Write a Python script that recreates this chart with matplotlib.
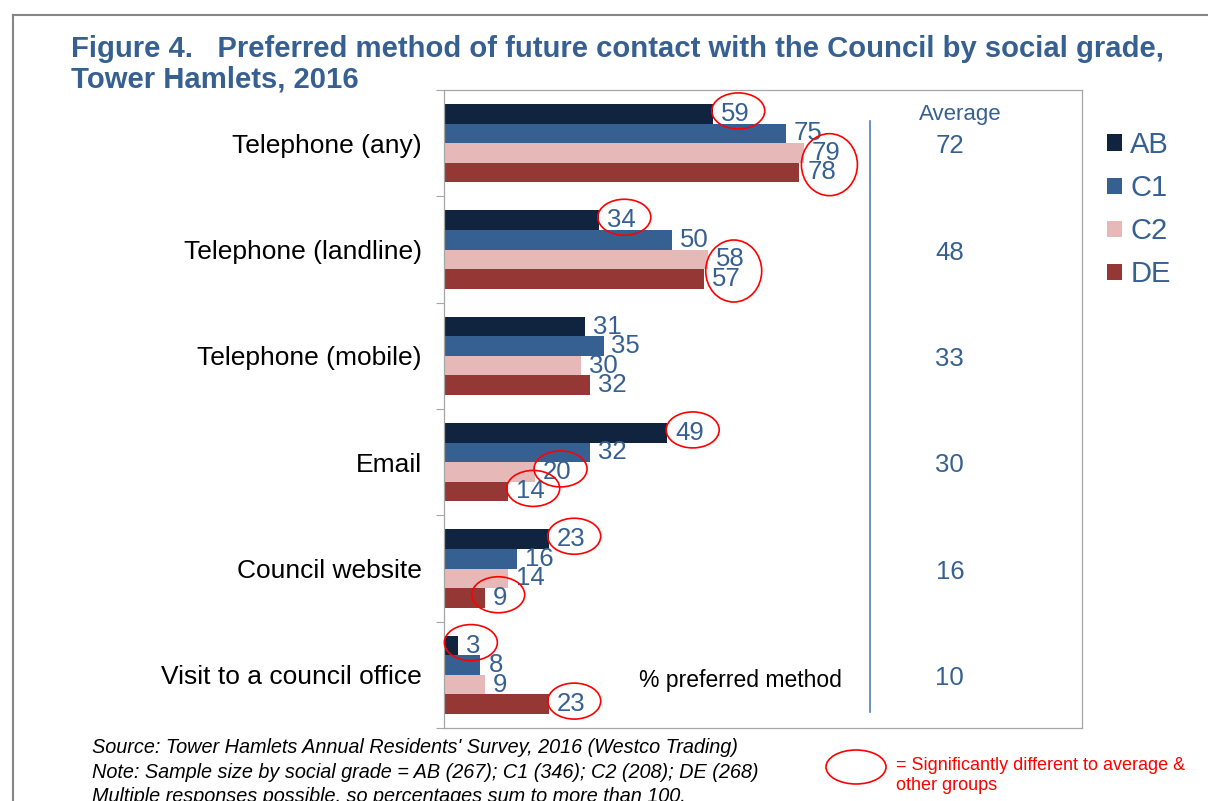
import numpy as np
import matplotlib
matplotlib.use("Agg")
import matplotlib.pyplot as plt
from matplotlib.patches import Ellipse
from matplotlib.lines import Line2D
from matplotlib.transforms import ScaledTranslation

plt.rcParams['font.family'] = ['Liberation Sans', 'DejaVu Sans']

# ---- data ----
categories = ["Telephone (any)", "Telephone (landline)", "Telephone (mobile)",
              "Email", "Council website", "Visit to a council office"]
grades = ["AB", "C1", "C2", "DE"]
ab = [59, 34, 31, 49, 23, 3]
c1 = [75, 50, 35, 32, 16, 8]
c2 = [79, 58, 30, 20, 14, 9]
de = [78, 57, 32, 14, 9, 23]
average = [72, 48, 33, 30, 16, 10]
# (category index, grades circled together) for significant differences
significant = [(0, ["AB"]), (0, ["C2", "DE"]),
               (1, ["AB"]), (1, ["C2", "DE"]),
               (3, ["AB"]), (3, ["C2"]), (3, ["DE"]),
               (4, ["AB"]), (4, ["DE"]),
               (5, ["AB"]), (5, ["DE"])]

series = {"AB": ab, "C1": c1, "C2": c2, "DE": de}
colors = {"AB": "#11243F", "C1": "#376092", "C2": "#E6B9B8", "DE": "#953735"}
blue_txt = "#376092"

W, H, DPI = 1208, 801, 100
fig = plt.figure(figsize=(W / DPI, H / DPI), dpi=DPI)

# plot area in pixel terms
ax_l, ax_r, ax_t, ax_b = 444, 1082, 90, 728
ax = fig.add_axes([ax_l / W, 1 - ax_b / H, (ax_r - ax_l) / W, (ax_b - ax_t) / H])

n = len(categories)
y = np.arange(n)
bar_h = 0.1834
offsets = {g: (k - 1.5) * bar_h for k, g in enumerate(grades)}

for g in grades:
    ax.barh(y + offsets[g], series[g], height=bar_h, color=colors[g],
            label=g, zorder=2)
    for i, v in enumerate(series[g]):
        ax.annotate(str(v), xy=(v, i + offsets[g]), xytext=(8, 0),
                    textcoords="offset pixels", ha="left", va="center",
                    fontsize=18.5, color=blue_txt, zorder=4)

ax.set_xlim(0, 140)
ax.set_ylim(n - 0.5, -0.5)
ax.set_xticks([])

# group separators as outward ticks, category names as minor tick labels
ax.set_yticks(np.arange(-0.5, n, 1.0))
ax.set_yticklabels([])
ax.set_yticks(y, minor=True)
ax.set_yticklabels(categories, minor=True, fontsize=19, color="black")
ax.tick_params(axis="y", which="major", length=5.8, width=0.8,
               color="#A6A6A6", direction="out")
ax.tick_params(axis="y", which="minor", length=0, pad=16)
for s in ax.spines.values():
    s.set_color("#A6A6A6")
    s.set_linewidth(0.9)

# circles around significant values
for cat, group in significant:
    vals = [series[g][cat] for g in group]
    ys = [cat + offsets[g] for g in group]
    vmax = max(vals)
    digits = len(str(vmax))
    dx = 8 + 7.2 * digits + (3 if digits > 1 else -2)
    if len(group) == 1:
        w_px, h_px, dy = 53, 36, 3
    else:
        w_px, h_px, dy = 56, 62, -2
    tr = ScaledTranslation(vmax, float(np.mean(ys)), ax.transData)
    ax.add_patch(Ellipse((dx, dy), w_px, h_px, transform=tr, fill=False,
                         edgecolor="#FF0000", linewidth=1.2, zorder=5,
                         clip_on=False))

# average column
ax.plot([93.5, 93.5], [-0.208, 5.35], color="#4F81BD", lw=1.2, zorder=3)
ax.text(113.2, -0.27, "Average", ha="center", va="center",
        fontsize=16, color=blue_txt)
for i, a in enumerate(average):
    ax.text(111, i + 0.03, str(a), ha="center", va="center",
            fontsize=18.5, color=blue_txt)
ax.text(65, 5.05, "% preferred method", ha="center", va="center",
        fontsize=16.5, color="black")

# legend
handles, labels = ax.get_legend_handles_labels()
fig.legend(handles, labels, loc="upper left",
           bbox_to_anchor=(1107 / W, 1 - 131 / H), frameon=False,
           fontsize=21, handlelength=0.5, handleheight=0.5,
           handletextpad=0.3, labelspacing=0.52, borderpad=0,
           borderaxespad=0, labelcolor=blue_txt)

# title
title_c = "#376092"
fig.text(71 / W, 1 - 57 / H,
         "Figure 4.   Preferred method of future contact with the Council by social grade,",
         ha="left", va="baseline", fontsize=21.1, fontweight="bold", color=title_c)
fig.text(71 / W, 1 - 88 / H, "Tower Hamlets, 2016",
         ha="left", va="baseline", fontsize=21.1, fontweight="bold", color=title_c)

# footnotes
notes = ["Source: Tower Hamlets Annual Residents' Survey, 2016 (Westco Trading)",
         "Note: Sample size by social grade = AB (267); C1 (346); C2 (208); DE (268)",
         "Multiple responses possible, so percentages sum to more than 100."]
for k, t in enumerate(notes):
    fig.text(92 / W, 1 - (753 + 24.5 * k) / H, t, ha="left", va="baseline",
             fontsize=14.3, fontstyle="italic", color="black")

# key for the red circles
fig.add_artist(Ellipse((856 / W, 1 - 767 / H), 60 / W, 34 / H,
                       transform=fig.transFigure, fill=False,
                       edgecolor="#FF0000", linewidth=1.2))
fig.text(896 / W, 1 - 766 / H, "= Significantly different to average &",
         ha="left", va="center", fontsize=13, color="#FF0000")
fig.text(896 / W, 1 - 786 / H, "other groups",
         ha="left", va="center", fontsize=13, color="#FF0000")

# page frame
fig.add_artist(Line2D([13 / W, 1], [1 - 15 / H, 1 - 15 / H],
                      transform=fig.transFigure, color="#858585", lw=1.5))
fig.add_artist(Line2D([13 / W, 13 / W], [1 - 15 / H, 0],
                      transform=fig.transFigure, color="#858585", lw=1.5))

fig.savefig("out.png", dpi=DPI)
